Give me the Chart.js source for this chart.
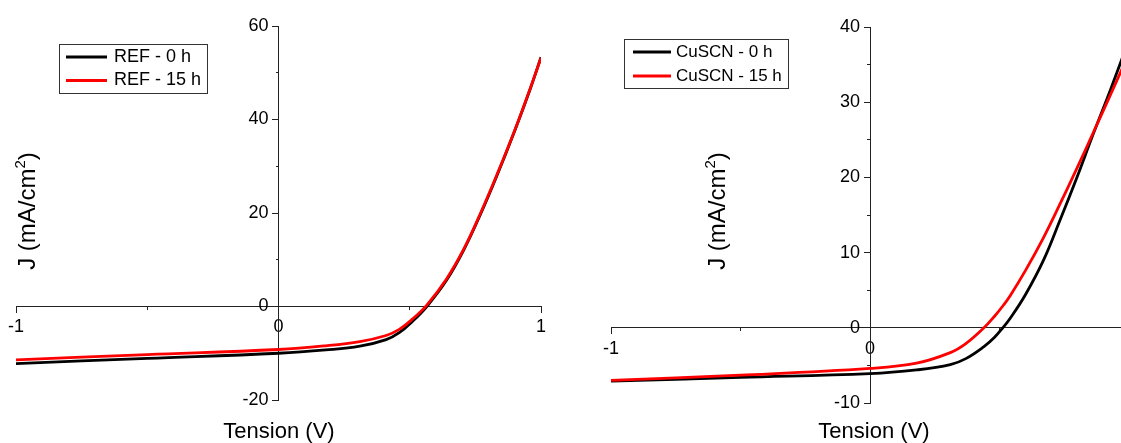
<!DOCTYPE html>
<html>
<head>
<meta charset="utf-8">
<script src="https://cdn.jsdelivr.net/npm/chart.js@4.4.0/dist/chart.umd.min.js"></script>
<style>
  html, body { margin: 0; padding: 0; background: #fff; overflow: hidden; }
  #wrap { position: relative; width: 1121px; height: 443px; overflow: hidden; }
  #refChart { position: absolute; left: 0; top: 0; }
  #cuChart { position: absolute; left: 560px; top: 0; }
</style>
</head>
<body>
<div id="wrap">
  <canvas id="refChart" width="560" height="443"></canvas>
  <canvas id="cuChart" width="590" height="443"></canvas>
</div>
<script>
// J-V curves: tension in V, J in mA/cm2
var tensionRef = [-1, -0.5, 0, 0.18, 0.31, 0.41, 0.46, 0.51, 0.565, 0.64, 0.705, 0.77, 0.83, 0.9, 0.96, 1.0]
var jRef0h = [-12.2, -11.1, -10.0, -9.3, -8.5, -7.1, -5.6, -3.2, 0, 5.6, 12.0, 19.8, 27.7, 37.6, 46.7, 53.3]
var jRef15h = [-11.4, -10.3, -9.2, -8.4, -7.5, -6.2, -4.9, -2.7, 0.3, 5.9, 12.2, 20.0, 27.9, 37.7, 46.8, 53.2]

var tensionCu = [-1, -0.5, 0, 0.18, 0.31, 0.37, 0.44, 0.48, 0.515, 0.54, 0.6, 0.67, 0.73, 0.8, 0.86, 0.93, 1.0]
var jCu0h = [-7.1, -6.6, -6.1, -5.6, -4.9, -4.1, -2.5, -1.3, 0.1, 1.2, 4.4, 9.0, 14.0, 20.1, 25.6, 31.8, 38.3]
var jCu15h = [-7.0, -6.3, -5.4, -4.7, -3.3, -2.1, 0, 1.5, 3.0, 4.2, 7.6, 12.0, 16.2, 21.3, 25.8, 31.1, 36.5]

var labelsRef = ['REF - 0 h', 'REF - 15 h']
var labelsCu = ['CuSCN - 0 h', 'CuSCN - 15 h']

var xTicks = [-1, 0, 1]
var xMinor = [-1, -0.5, 0, 0.5, 1]
var yTicksRef = [-20, 0, 20, 40, 60]
var yMinorRef = [-20, -10, 0, 10, 20, 30, 40, 50, 60]
var yTicksCu = [-10, 0, 10, 20, 30, 40]
var yMinorCu = [-10, -5, 0, 5, 10, 15, 20, 25, 30, 35, 40]

var FONT = "'Liberation Sans', Arial, Helvetica, sans-serif"
Chart.defaults.font.family = FONT
Chart.defaults.color = '#000'

function points(xs, ys) {
    return xs.map(function (x, i) { return { x: x, y: ys[i] } })
}

function tickSetter(list) {
    return function (axis) {
        axis.ticks = list.map(function (v) { return { value: v } })
    }
}

// legend box and axis titles, drawn on top of the plot
var decor = {
    id: 'decor',
    afterDraw: function (chart, args, opts) {
        var ctx = chart.ctx
        ctx.save()

        var lg = opts.legend
        ctx.fillStyle = '#fff'
        ctx.fillRect(lg.x, lg.y, lg.w, lg.h)
        ctx.strokeStyle = '#333'
        ctx.lineWidth = 1
        ctx.strokeRect(lg.x + 0.5, lg.y + 0.5, lg.w, lg.h)
        ctx.font = lg.size + 'px ' + FONT
        ctx.textBaseline = 'middle'
        ctx.textAlign = 'left'
        chart.data.datasets.forEach(function (ds, i) {
            var yy = lg.y + lg.rowTop + i * lg.rowGap
            ctx.strokeStyle = ds.borderColor
            ctx.lineWidth = 3
            ctx.beginPath()
            ctx.moveTo(lg.x + lg.line0, yy)
            ctx.lineTo(lg.x + lg.line1, yy)
            ctx.stroke()
            ctx.fillStyle = '#000'
            ctx.fillText(ds.label, lg.x + lg.textX, yy)
        })

        // x title
        ctx.fillStyle = '#000'
        ctx.font = '22px ' + FONT
        ctx.textAlign = 'center'
        ctx.textBaseline = 'alphabetic'
        ctx.fillText('Tension (V)', opts.xTitle.x, opts.xTitle.y)

        // y title with superscript
        ctx.translate(opts.yTitle.x, opts.yTitle.y)
        ctx.rotate(-Math.PI / 2)
        var big = '24px ' + FONT, small = '15px ' + FONT
        var a = 'J (mA/cm', b = '2', c = ')'
        ctx.font = big
        var wa = ctx.measureText(a).width, wc = ctx.measureText(c).width
        ctx.font = small
        var wb = ctx.measureText(b).width
        var start = -(wa + wb + wc) / 2
        ctx.textAlign = 'left'
        ctx.font = big
        ctx.fillText(a, start, 0)
        ctx.font = small
        ctx.fillText(b, start + wa, -10)
        ctx.font = big
        ctx.fillText(c, start + wa + wb, 0)

        ctx.restore()
    }
}

function makeChart(id, xs, ys0, ys15, labels, yMin, yMax, yTicks, yMinor, pad, deco) {
    var axisColor = '#222'
    return new Chart(document.getElementById(id), {
        type: 'line',
        data: {
            datasets: [
                {
                    label: labels[0],
                    data: points(xs, ys0),
                    borderColor: '#000000',
                    borderWidth: 2.8,
                    pointRadius: 0,
                    tension: 0.4,
                    order: 2,
                },
                {
                    label: labels[1],
                    data: points(xs, ys15),
                    borderColor: '#ff0000',
                    borderWidth: 2.8,
                    pointRadius: 0,
                    tension: 0.4,
                    order: 1,
                },
            ],
        },
        options: {
            responsive: false,
            animation: false,
            layout: { padding: pad },
            plugins: {
                legend: { display: false },
                tooltip: { enabled: false },
                decor: deco,
            },
            scales: {
                x: {
                    type: 'linear',
                    axis: 'x',
                    min: -1,
                    max: 1,
                    position: { y: 0 },
                    afterBuildTicks: tickSetter(xTicks),
                    grid: { drawOnChartArea: false, tickLength: 6, tickColor: axisColor },
                    border: { display: true, color: axisColor, width: 1 },
                    ticks: { font: { size: 18 }, padding: 4, maxRotation: 0, autoSkip: false },
                },
                x2: {
                    type: 'linear',
                    axis: 'x',
                    min: -1,
                    max: 1,
                    position: { y: 0 },
                    afterBuildTicks: tickSetter(xMinor),
                    grid: { drawOnChartArea: false, tickLength: 3, tickColor: axisColor },
                    border: { display: false },
                    ticks: { display: false },
                },
                y: {
                    type: 'linear',
                    axis: 'y',
                    min: yMin,
                    max: yMax,
                    position: { x: 0 },
                    afterBuildTicks: tickSetter(yTicks),
                    grid: { drawOnChartArea: false, tickLength: 6, tickColor: axisColor },
                    border: { display: true, color: axisColor, width: 1 },
                    ticks: {
                        font: { size: 18 },
                        autoSkip: false,
                        callback: function (v) { return v + '  ' },
                    },
                },
                y2: {
                    type: 'linear',
                    axis: 'y',
                    min: yMin,
                    max: yMax,
                    position: { x: 0 },
                    afterBuildTicks: tickSetter(yMinor),
                    grid: { drawOnChartArea: false, tickLength: 3, tickColor: axisColor },
                    border: { display: false },
                    ticks: { display: false },
                },
            },
        },
        plugins: [decor],
    })
}

makeChart('refChart', tensionRef, jRef0h, jRef15h, labelsRef, -20, 60, yTicksRef, yMinorRef,
    { left: 16, right: 19, top: 26, bottom: 43 },
    {
        legend: { x: 59, y: 44, w: 148, h: 49, line0: 7, line1: 48, rowTop: 13, rowGap: 23.5, textX: 55, size: 18 },
        xTitle: { x: 279, y: 438 },
        yTitle: { x: 35, y: 211 },
    })

makeChart('cuChart', tensionCu, jCu0h, jCu15h, labelsCu, -10, 40, yTicksCu, yMinorCu,
    { left: 51, right: 21, top: 27, bottom: 40 },
    {
        legend: { x: 64, y: 39, w: 164, h: 49, line0: 9, line1: 47, rowTop: 13, rowGap: 24, textX: 52, size: 17 },
        xTitle: { x: 314, y: 438 },
        yTitle: { x: 165, y: 211 },
    })
</script>
</body>
</html>
